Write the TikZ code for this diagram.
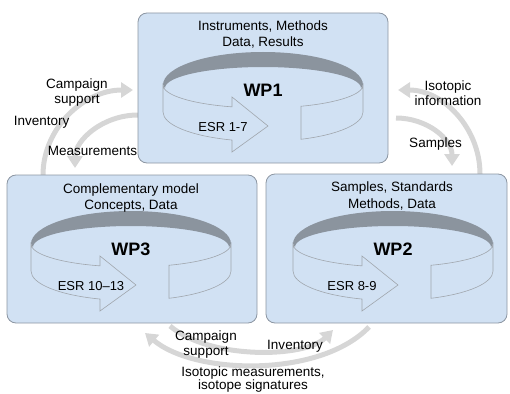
\documentclass[tikz,border=0pt]{standalone}
\usepackage{fontspec}
\setmainfont{Liberation Sans}
\usetikzlibrary{arrows.meta}
\definecolor{boxfill}{RGB}{209,225,243}
\definecolor{boxline}{RGB}{140,150,162}
\definecolor{bandfill}{RGB}{139,148,158}
\definecolor{ribline}{RGB}{160,166,173}
\definecolor{flowgray}{RGB}{214,214,214}
\tikzset{
  wpbox/.style={draw=boxline, line width=0.8pt, fill=boxfill, rounded corners=9pt, inner sep=0pt},
  lbl/.style={font=\fontsize{13.5}{16}\selectfont, inner sep=0pt, anchor=base, text=black},
  wplbl/.style={font=\fontsize{18}{20}\selectfont\bfseries, inner sep=0pt, anchor=base},
  esrlbl/.style={font=\fontsize{13}{15}\selectfont, inner sep=0pt, anchor=base},
  flow/.style={draw=flowgray, line width=5pt, -{Triangle[width=15pt,length=12pt]}},
  band/.style={fill=bandfill, draw=none},
  ribface/.style={fill=boxfill, draw=ribline, line width=0.6pt, line join=miter},
}
\newcommand\ribbonat[2]{%
  \begin{scope}[shift={(#1,#2)}]
    \fill[band] (-100,-3) arc[start angle=180,end angle=360,x radius=100,y radius=33]
      -- (98,0) arc[start angle=0,end angle=-180,x radius=98,y radius=21] -- cycle;
    \draw[ribface] (-100,-3) arc[start angle=180,end angle=108.06,x radius=100,y radius=23]
      -- (-31,9) -- (5,38) -- (-31,64) -- (-31,52.04)
      arc[start angle=108.06,end angle=180,x radius=100,y radius=29.5] -- cycle;
    \draw[ribface] (38,18.27) arc[start angle=67.67,end angle=0,x radius=100,y radius=23]
      -- (100,24) arc[start angle=0,end angle=67.67,x radius=100,y radius=29.5] -- cycle;
  \end{scope}}
\begin{document}
\begin{tikzpicture}[x=1pt,y=-1pt]
\useasboundingbox (0,0) rectangle (510,393);
% connector end points
\coordinate (csL0) at (43,175);  \coordinate (csL1) at (133,90);
\coordinate (meL0) at (138,115); \coordinate (meL1) at (75,168);
\coordinate (isR0) at (480,174); \coordinate (isR1) at (398,90);
\coordinate (saR0) at (396,118); \coordinate (saR1) at (452,166);
\coordinate (imB0) at (369,327); \coordinate (imB1) at (145,333);
\coordinate (inB0) at (170,326); \coordinate (inB1) at (333,330);
% connectors
\draw[flow] (csL0) .. controls (43,128) and (84,90) .. (csL1);
\draw[flow] (meL0) .. controls (103,115) and (75,140) .. (meL1);
\draw[flow] (isR0) .. controls (480,128) and (443,90) .. (isR1);
\draw[flow] (saR0) .. controls (427,118) and (452,139) .. (saR1);
\draw[flow] (imB0) .. controls (320,378) and (195,375) .. (imB1);
\draw[flow] (inB0) .. controls (210,360) and (305,358) .. (inB1);
% boxes
\node[wpbox, minimum width=250pt, minimum height=150pt] (wp1) at (263,88) {};
\node[wpbox, minimum width=250pt, minimum height=148pt] (wp3) at (132,249) {};
\node[wpbox, minimum width=241pt, minimum height=149pt] (wp2) at (386.5,248.5) {};
% ribbons
\ribbonat{263}{88}
\ribbonat{131}{247}
\ribbonat{393}{247}
% box texts
\node[lbl] (t1a) at (263,30.5) {Instruments, Methods};
\node[lbl] (t1b) at (263,47) {Data, Results};
\node[wplbl] (w1) at (263,96.5) {WP1};
\node[esrlbl] (e1) at (223,131.5) {ESR 1-7};
\node[lbl] (t3a) at (131,193) {Complementary model};
\node[lbl] (t3b) at (131,209.5) {Concepts, Data};
\node[wplbl] (w3) at (131,255.5) {WP3};
\node[esrlbl] (e3) at (91,290.5) {ESR 10–13};
\node[lbl] (t2a) at (392,191.5) {Samples, Standards};
\node[lbl] (t2b) at (392,208) {Methods, Data};
\node[wplbl] (w2) at (393,255.5) {WP2};
\node[esrlbl] (e2) at (352,290.5) {ESR 8-9};
% side labels
\node[lbl] (l1a) at (77,88.3) {Campaign};
\node[lbl] (l1b) at (77,103.5) {support};
\node[lbl] (l2) at (41.7,125) {Inventory};
\node[lbl] (l3) at (92.5,155) {Measurements};
\node[lbl] (r1a) at (448,90) {Isotopic};
\node[lbl] (r1b) at (448,105.5) {information};
\node[lbl] (r2) at (435.5,147.3) {Samples};
\node[lbl] (b1a) at (206,340) {Campaign};
\node[lbl] (b1b) at (206,355) {support};
\node[lbl] (b2) at (295,349.3) {Inventory};
\node[lbl] (b3a) at (253,376.5) {Isotopic measurements,};
\node[lbl] (b3b) at (253,389.5) {isotope signatures};
\end{tikzpicture}
\end{document}
